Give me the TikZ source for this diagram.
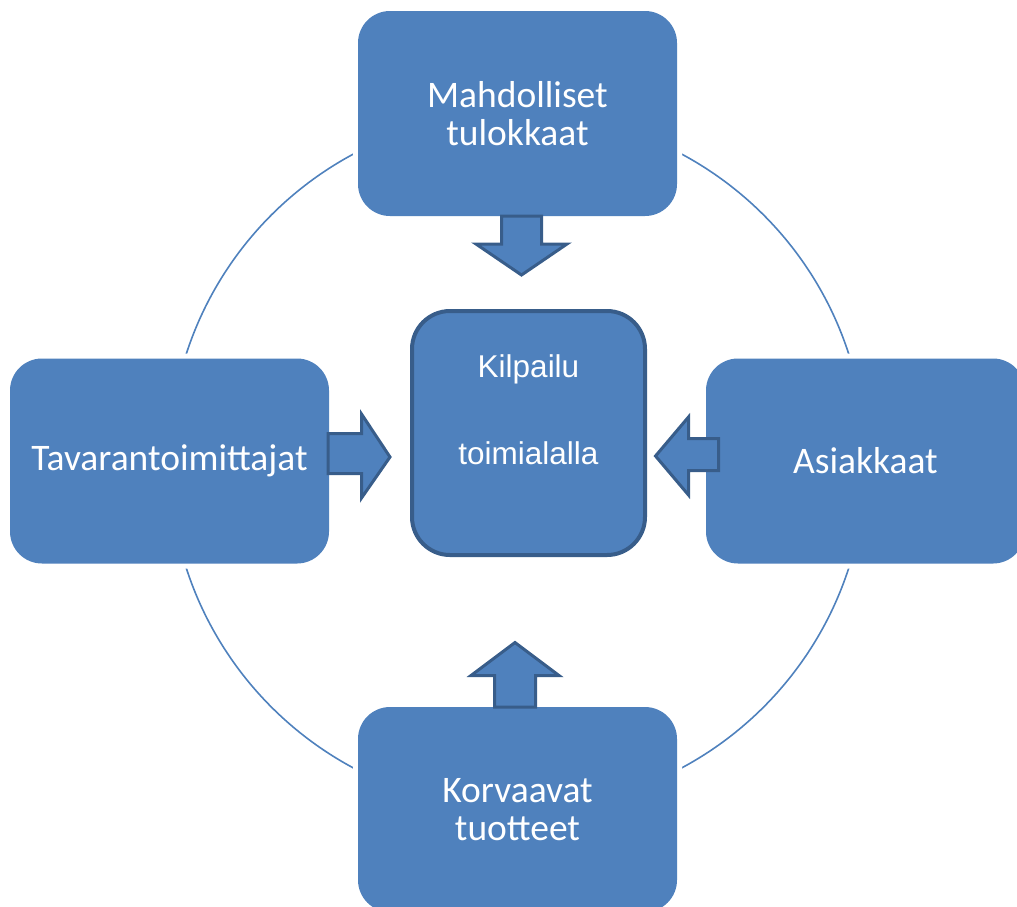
\documentclass[tikz,border=0pt]{standalone}
\usepackage{fontspec}
\setmainfont{Carlito}
\newfontfamily\arialfont{Liberation Sans}
\definecolor{boxblue}{HTML}{4F81BD}
\definecolor{edgeblue}{HTML}{385D8A}
\begin{document}
\begin{tikzpicture}[x=1pt,y=-1pt,
  outerbox/.style={fill=boxblue, rounded corners=32pt, minimum width=319pt,
    minimum height=205pt, inner sep=0pt, outer sep=0pt, text=white, align=center,
    font=\fontsize{37.5}{38.5}\selectfont, preaction={draw=white,line width=10pt}},
  centrebox/.style={fill=boxblue, draw=edgeblue, line width=4pt, rounded corners=38pt,
    minimum width=233pt, minimum height=244pt, inner sep=0pt, outer sep=0pt},
  centretext/.style={text=white, inner sep=0pt, font=\arialfont\fontsize{31.5}{36}\selectfont},
  ring/.style={draw=boxblue, line width=1.6pt},
  blockarrow/.style={fill=boxblue, draw=edgeblue, line width=3pt, line join=miter}]
\useasboundingbox (0,0) rectangle (1017,906);
\clip (0,0) rectangle (1017,906);

% background circle linking the four forces
\draw[ring] (517.5,461) circle[radius=348];

% the four outer forces
\node[outerbox] (top) at (517.5,113.5) {Mahdolliset\\tulokkaat};
\node[outerbox] (left) at (169.5,461) {Tavarantoimittajat};
\node[outerbox] (right) at (865.5,461) {Asiakkaat};
\node[outerbox] (bottom) at (517.5,809.5) {Korvaavat\\tuotteet};

% central box
\node[centrebox] (kilp) at (528.5,433) {};
\node[centretext, anchor=base] (kilpA) at (528.5,377) {Kilpailu};
\node[centretext, anchor=base] (kilpB) at (528.5,464) {toimialalla};

% block arrows pointing into the centre
\draw[blockarrow] ([xshift=-16pt]top.south) -- ++(0,28) -- ++(-25.5,0) -- ++(45.5,31)
  -- ++(45.5,-31) -- ++(-25.5,0) -- ++(0,-28) -- cycle;
\draw[blockarrow] ([xshift=-23pt]bottom.north) -- ++(0,-31.5) -- ++(-23.5,0) -- ++(44,-33)
  -- ++(44,33) -- ++(-23.5,0) -- ++(0,31.5) -- cycle;
\draw[blockarrow] ([xshift=-1pt,yshift=27.5pt]left.east) -- ++(33.5,0) -- ++(0,-19.5)
  -- ++(28.5,43) -- ++(-28.5,41) -- ++(0,-24.5) -- ++(-33.5,0) -- cycle;
\draw[blockarrow] ([xshift=12.5pt,yshift=22.5pt]right.west) -- ++(-30,0) -- ++(0,-21.5)
  -- ++(-33,39) -- ++(33,39) -- ++(0,-24.5) -- ++(30,0) -- cycle;
\end{tikzpicture}
\end{document}
